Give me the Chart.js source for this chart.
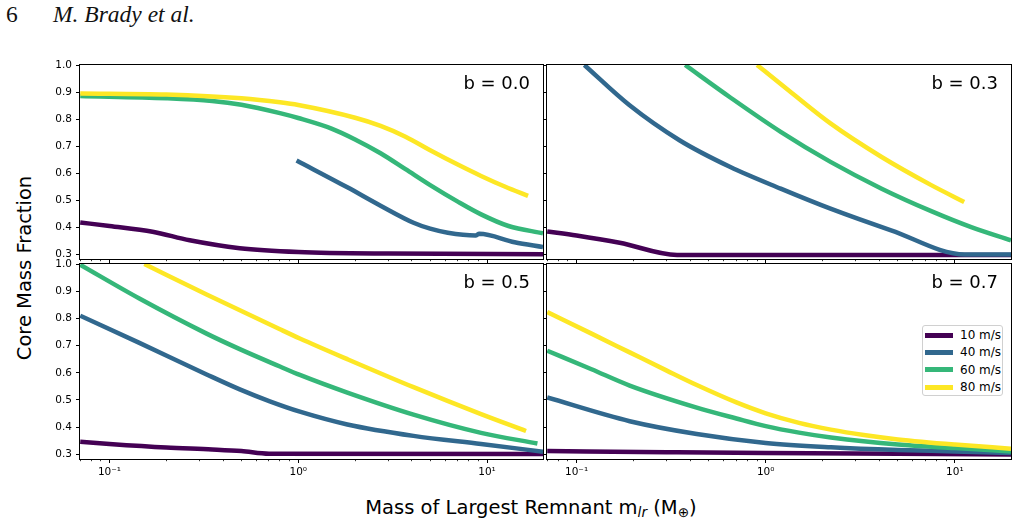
<!DOCTYPE html>
<html>
<head>
<meta charset="utf-8">
<script src="https://cdn.jsdelivr.net/npm/chart.js@4.4.0/dist/chart.umd.min.js"></script>
<style>
  html, body { margin: 0; padding: 0; background: #fff; }
  #fig { position: relative; width: 1018px; height: 525px; overflow: hidden; font-family: "DejaVu Sans", sans-serif; }
  #fig canvas { position: absolute; }
  .hdr { position: absolute; top: 3px; font-family: "Liberation Serif", "Times New Roman", serif; font-size: 23.5px; line-height: 23px; color: #111; }
  #xlabel { position: absolute; left: 531px; top: 496px; transform: translateX(-50%); font-size: 19.5px; line-height: 24px; white-space: nowrap; color: #000; }
  #xlabel sub { font-size: 0.7em; line-height: 0; vertical-align: -0.25em; }
  #ylabel { position: absolute; left: -125px; top: 256px; width: 300px; text-align: center; font-size: 19.5px; line-height: 24px; transform: rotate(-90deg); white-space: nowrap; color: #000; }
  #legend { position: absolute; left: 922px; top: 325px; width: 81px; height: 71px; border: 1px solid #d0d0d0; border-radius: 3px; background: rgba(255,255,255,0.8); box-sizing: border-box; }
  .lg-row { position: absolute; left: 0; height: 16px; width: 100%; }
  .lg-line { position: absolute; left: 2px; top: 5.5px; width: 28px; height: 5px; }
  .lg-text { position: absolute; left: 37px; top: 0; font-size: 12px; line-height: 16px; color: #000; white-space: nowrap; }
</style>
</head>
<body>
<div id="fig">
  <div class="hdr" style="left:6px">6</div>
  <div class="hdr" style="left:53px;font-style:italic">M. Brady et al.</div>
  <div id="ylabel">Core Mass Fraction</div>
  <div id="xlabel">Mass of Largest Remnant m<sub><i>lr</i></sub> (M<sub>&#8853;</sub>)</div>
  <div id="legend"></div>
</div>
<script>
// ── Series labels / colours (viridis) ──
const SPEEDS = ['10 m/s', '40 m/s', '60 m/s', '80 m/s'];
const COLORS = ['#440154', '#31688e', '#35b779', '#fde725'];

// ── Axis ranges and ticks ──
const X_MIN = 0.0698, X_MAX = 19.8;
const Y_MIN = 0.283, Y_MAX = 1.0;
const X_MAJOR = [0.1, 1, 10];
const X_MAJOR_LABELS = ['10\u207B\u00B9', '10\u2070', '10\u00B9'];
const X_MINOR = [0.07, 0.08, 0.09, 0.2, 0.3, 0.4, 0.5, 0.6, 0.7, 0.8, 0.9, 2, 3, 4, 5, 6, 7, 8, 9];
const Y_TICKS = [0.3, 0.4, 0.5, 0.6, 0.7, 0.8, 0.9, 1.0];

// ── b = 0.0 ──  [mass, core fraction]
const b00_v10 = [[0.07,0.418],[0.1,0.405],[0.169,0.384],[0.266,0.352],[0.49,0.323],[1,0.309],[3,0.303],[19.8,0.301]];
const b00_v40 = [[0.98,0.647],[1.82,0.548],[2.73,0.48],[4.08,0.417],[5,0.395],[6.2,0.38],[8.7,0.37],[9.1,0.376],[14,0.345],[19.8,0.327]];
const b00_v60 = [[0.07,0.885],[0.2,0.877],[0.35,0.867],[0.5,0.853],[0.8,0.822],[1,0.804],[1.5,0.765],[2,0.725],[2.73,0.674],[3.7,0.615],[5,0.556],[7,0.495],[9.3,0.448],[13,0.405],[19.8,0.378]];
const b00_v80 = [[0.07,0.895],[0.2,0.891],[0.5,0.877],[0.8,0.862],[1,0.852],[2,0.805],[2.73,0.775],[3.7,0.735],[5,0.685],[7,0.632],[9.3,0.59],[12.5,0.55],[16.5,0.516]];

// ── b = 0.3 ──
const b03_v10 = [[0.07,0.385],[0.1,0.37],[0.169,0.343],[0.34,0.298],[19.8,0.298]];
const b03_v40 = [[0.11,1.0],[0.19,0.852],[0.35,0.722],[0.65,0.623],[1.2,0.543],[2.2,0.469],[4.6,0.389],[11.3,0.3],[19.8,0.3]];
const b03_v60 = [[0.375,1.0],[0.65,0.88],[1.2,0.753],[2.2,0.642],[4.1,0.543],[7.5,0.46],[12.3,0.4],[19.8,0.352]];
const b03_v80 = [[0.9,1.0],[1.2,0.93],[2.2,0.784],[4.1,0.66],[7.5,0.556],[11.2,0.494]];

// ── b = 0.5 ──
const b05_v10 = [[0.07,0.346],[0.1,0.338],[0.2,0.325],[0.35,0.318],[0.5,0.312],[0.7,0.302],[19.8,0.301]];
const b05_v40 = [[0.07,0.81],[0.144,0.71],[0.327,0.594],[0.49,0.539],[0.707,0.495],[1.02,0.457],[1.82,0.41],[4.08,0.368],[9.3,0.338],[19.8,0.31]];
const b05_v60 = [[0.07,0.997],[0.144,0.873],[0.327,0.744],[0.49,0.687],[0.8,0.623],[1.02,0.592],[1.82,0.527],[4.08,0.446],[9.3,0.379],[18.5,0.34]];
const b05_v80 = [[0.153,1.0],[0.327,0.888],[0.8,0.76],[1.02,0.726],[1.82,0.65],[4.08,0.547],[9.3,0.448],[16.1,0.386]];

// ── b = 0.7 ──
const b07_v10 = [[0.07,0.312],[0.3,0.308],[1,0.305],[5,0.302],[19.8,0.3]];
const b07_v40 = [[0.07,0.509],[0.191,0.422],[0.432,0.375],[1,0.342],[2.21,0.326],[5,0.316],[10,0.311],[19.8,0.305]];
const b07_v60 = [[0.07,0.681],[0.12,0.613],[0.191,0.553],[0.432,0.472],[0.7,0.432],[1,0.404],[1.5,0.38],[2.21,0.362],[5,0.336],[10,0.323],[19.8,0.311]];
const b07_v80 = [[0.07,0.823],[0.12,0.744],[0.191,0.675],[0.3,0.608],[0.432,0.555],[0.7,0.491],[1,0.451],[1.5,0.416],[2.21,0.391],[3.3,0.371],[5,0.355],[10,0.336],[19.8,0.321]];

// ── Panel layout (chart-area boxes in page pixels) ──
const PANELS = [
  { label: 'b = 0.0', series: [b00_v10, b00_v40, b00_v60, b00_v80], left: 80,  top: 65,  w: 463, h: 194, yLab: true,  xLab: false },
  { label: 'b = 0.3', series: [b03_v10, b03_v40, b03_v60, b03_v80], left: 547, top: 65,  w: 464, h: 194, yLab: false, xLab: false },
  { label: 'b = 0.5', series: [b05_v10, b05_v40, b05_v60, b05_v80], left: 80,  top: 264, w: 463, h: 195, yLab: true,  xLab: true  },
  { label: 'b = 0.7', series: [b07_v10, b07_v40, b07_v60, b07_v80], left: 547, top: 264, w: 464, h: 195, yLab: false, xLab: true  },
];
const PAD_L = 50, PAD_T = 10, PAD_R = 10, PAD_B = 30;

Chart.defaults.font.family = '"DejaVu Sans", sans-serif';
Chart.defaults.color = '#000';

// ── Frame + panel tag ──
const panelFrame = {
  id: 'panelFrame',
  afterDatasetsDraw(chart, args, opts) {
    const { ctx, chartArea: { left, top, right, bottom } } = chart;
    ctx.save();
    ctx.strokeStyle = '#000';
    ctx.lineWidth = 1;
    ctx.strokeRect(left - 0.5, top - 0.5, right - left + 1, bottom - top + 1);
    ctx.font = '18px "DejaVu Sans"';
    ctx.fillStyle = '#000';
    ctx.textAlign = 'right';
    ctx.textBaseline = 'middle';
    ctx.fillText(opts.label, right - 13, top + 19);
    ctx.restore();
  }
};

function zeroPad(s) { s.paddingTop = s.paddingBottom = s.paddingLeft = s.paddingRight = 0; }

function buildPanel(p) {
  const fig = document.getElementById('fig');
  const cv = document.createElement('canvas');
  const W = p.w + PAD_L + PAD_R, H = p.h + PAD_T + PAD_B;
  cv.width = W; cv.height = H;
  cv.style.left = (p.left - PAD_L) + 'px';
  cv.style.top = (p.top - PAD_T) + 'px';
  cv.style.width = W + 'px'; cv.style.height = H + 'px';
  fig.appendChild(cv);

  new Chart(cv.getContext('2d'), {
    type: 'line',
    data: {
      datasets: p.series.map((pts, i) => ({
        label: SPEEDS[i],
        data: pts.map(([x, y]) => ({ x, y })),
        borderColor: COLORS[i],
        borderWidth: 4.5,
        pointRadius: 0,
        fill: false,
        cubicInterpolationMode: 'monotone',
        order: 3 - i,
      })),
    },
    options: {
      responsive: false, animation: false, events: [],
      devicePixelRatio: 1,
      layout: { padding: { top: PAD_T, right: PAD_R, left: 0, bottom: 0 } },
      plugins: { legend: { display: false }, tooltip: { enabled: false }, panelFrame: { label: p.label } },
      scales: {
        x: {
          type: 'logarithmic', min: X_MIN, max: X_MAX, bounds: 'data', position: 'bottom', weight: 1,
          afterBuildTicks: s => { s.ticks = X_MAJOR.map(v => ({ value: v, major: true })); },
          afterFit: s => { s.height = PAD_B; zeroPad(s); },
          grid: { drawOnChartArea: false, tickLength: 4, color: '#000', lineWidth: 1 },
          border: { display: false },
          ticks: {
            autoSkip: false, maxRotation: 0, padding: 3, color: '#000', font: { size: 10.5 },
            callback: v => p.xLab ? (X_MAJOR_LABELS[X_MAJOR.indexOf(v)] || '') : '',
          },
        },
        xm: {
          type: 'logarithmic', min: X_MIN, max: X_MAX, bounds: 'data', position: 'bottom', weight: 0,
          afterBuildTicks: s => { s.ticks = X_MINOR.map(v => ({ value: v })); },
          afterFit: s => { s.height = 0; zeroPad(s); },
          grid: { drawOnChartArea: false, tickLength: 2.2, color: '#000', lineWidth: 0.8 },
          border: { display: false },
          ticks: { display: false },
        },
        y: {
          min: Y_MIN, max: Y_MAX, bounds: 'data',
          afterBuildTicks: s => { s.ticks = Y_TICKS.map(v => ({ value: v })); },
          afterFit: s => { s.width = PAD_L; zeroPad(s); },
          grid: { drawOnChartArea: false, tickLength: 4, color: '#000', lineWidth: 1 },
          border: { display: false },
          ticks: { padding: 4, color: '#000', font: { size: 10.5 }, callback: v => p.yLab ? v.toFixed(1) : '' },
        },
      },
    },
    plugins: [panelFrame],
  });
}

// ── Legend (bottom-right panel) ──
function buildLegend() {
  const lg = document.getElementById('legend');
  SPEEDS.forEach((s, i) => {
    const row = document.createElement('div');
    row.className = 'lg-row';
    row.style.top = (1 + i * 17.4) + 'px';
    row.innerHTML = `<div class="lg-line" style="background:${COLORS[i]}"></div><div class="lg-text">${s}</div>`;
    lg.appendChild(row);
  });
}

PANELS.forEach(buildPanel);
buildLegend();
</script>
</body>
</html>
